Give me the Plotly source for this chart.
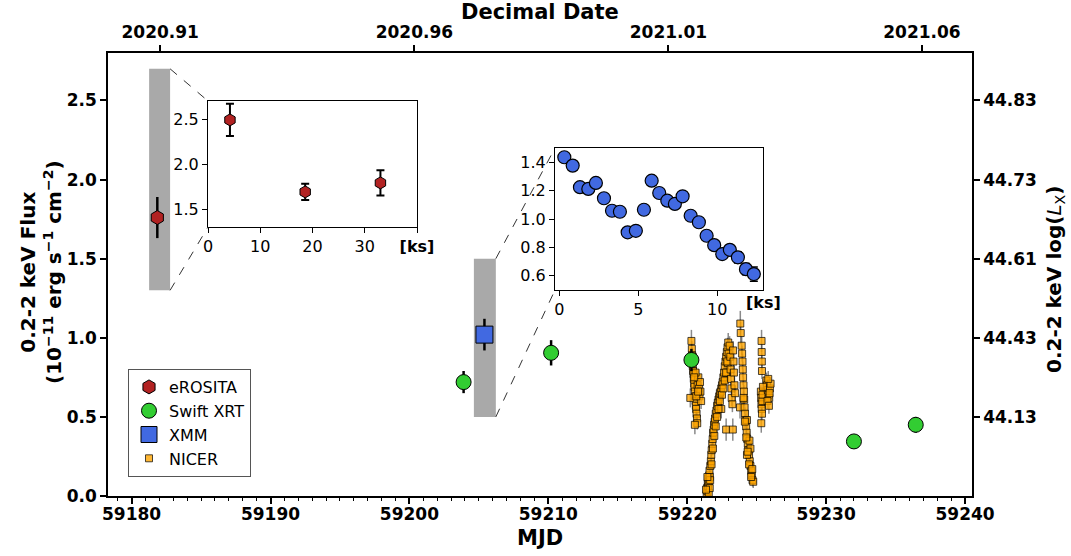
import plotly.graph_objects as go

# ---------------- data ----------------
erosita_mjd = [59181.85]
erosita_flux = [1.76]
erosita_err = [0.13]

swift_mjd = [59203.9, 59210.2, 59220.3, 59232.0, 59236.45]
swift_flux = [0.72, 0.905, 0.86, 0.345, 0.45]
swift_err = [0.07, 0.08, 0.07, 0.04, 0.05]

xmm_mjd = [59205.4]
xmm_flux = [1.02]
xmm_err = [0.1]

erosita_band_mjd = [59181.26, 59182.77]
erosita_band_flux = [1.3, 2.7]
xmm_band_mjd = [59204.64, 59206.22]
xmm_band_flux = [0.5, 1.5]

# eROSITA inset (time in ks)
erosita_ks = [4.2, 18.6, 33.0]
erosita_ks_flux = [2.49, 1.69, 1.79]
erosita_ks_err = [0.18, 0.09, 0.14]

# XMM inset (time in ks)
xmm_ks = [0.32, 0.85, 1.31, 1.84, 2.32, 2.83, 3.34, 3.84, 4.33, 4.85, 5.36, 5.85, 6.33,
          6.84, 7.32, 7.81, 8.32, 8.84, 9.33, 9.81, 10.32, 10.80, 11.31, 11.82, 12.32]
xmm_ks_flux = [1.435, 1.376, 1.224, 1.212, 1.254, 1.146, 1.058, 1.051, 0.906, 0.917, 1.065,
               1.270, 1.183, 1.129, 1.106, 1.160, 1.023, 0.977, 0.882, 0.816, 0.753, 0.783,
               0.730, 0.647, 0.612]
xmm_ks_err = [0.03, 0.03, 0.03, 0.03, 0.03, 0.03, 0.03, 0.03, 0.025, 0.025, 0.03, 0.03, 0.03,
              0.03, 0.03, 0.03, 0.03, 0.03, 0.03, 0.03, 0.03, 0.035, 0.04, 0.04, 0.05]

# NICER light curve
nicer_mjd = [
    # first visit
    59220.30, 59220.33, 59220.35, 59220.37, 59220.40, 59220.42, 59220.45, 59220.47, 59220.50,
    59220.52, 59220.55, 59220.57, 59220.60, 59220.62, 59220.64, 59220.67, 59220.70, 59220.72,
    59220.55, 59220.22, 59220.75, 59220.80, 59220.85, 59220.88, 59220.95, 59221.00, 59220.60,
    59220.45, 59220.65, 59220.78, 59220.92, 59220.50, 59220.40,
    # rise
    59221.40, 59221.43, 59221.45, 59221.48, 59221.50, 59221.52, 59221.55, 59221.58, 59221.60,
    59221.63, 59221.66, 59221.70, 59221.73, 59221.76, 59221.80, 59221.83, 59221.86, 59221.90,
    59221.93, 59221.97, 59222.00, 59222.05, 59222.10, 59222.15, 59222.20, 59222.25, 59222.30,
    59222.35, 59222.40, 59222.45, 59222.50, 59222.55, 59222.60, 59222.65, 59222.70, 59222.75,
    59222.80, 59222.85, 59222.90, 59222.95, 59222.98, 59222.92, 59222.85, 59222.45, 59221.55,
    59221.62, 59222.80, 59221.65, 59221.75, 59221.85, 59221.95, 59222.05, 59222.15, 59222.25,
    59222.35, 59222.50, 59222.60, 59222.70, 59222.78, 59222.88, 59221.45, 59221.35,
    # peak and decline
    59223.05, 59223.10, 59223.12, 59223.15, 59223.18, 59223.20, 59223.25, 59223.28, 59223.30,
    59223.33, 59223.36, 59223.40, 59223.45, 59223.82, 59223.85, 59223.80, 59223.92, 59223.95,
    59223.98, 59224.00, 59224.02, 59224.05, 59224.08, 59224.10, 59224.13, 59224.16, 59224.20,
    59224.24, 59224.28, 59224.32, 59224.36, 59224.40, 59224.45, 59224.50, 59224.55, 59224.60,
    59224.65, 59224.70, 59224.75, 59224.55, 59224.48, 59224.30, 59224.30, 59224.05, 59224.15,
    59224.25, 59224.35, 59224.45, 59224.60, 59224.68,
    # last visit
    59225.35, 59225.36, 59225.37, 59225.38, 59225.30, 59225.32, 59225.34, 59225.36, 59225.38,
    59225.40, 59225.42, 59225.33, 59225.70, 59225.75, 59225.80, 59225.85, 59225.90, 59225.95,
    59226.00, 59225.78, 59225.88, 59225.45, 59225.83, 59225.93,
]
nicer_flux = [
    0.98, 0.93, 0.89, 0.85, 0.82, 0.79, 0.77, 0.74, 0.71,
    0.69, 0.66, 0.63, 0.60, 0.57, 0.55, 0.52, 0.49, 0.46,
    0.45, 0.62, 0.70, 0.75, 0.68, 0.63, 0.66, 0.60, 0.78,
    0.85, 0.63, 0.66, 0.72, 0.75, 0.88,
    0.01, 0.05, 0.03, 0.08, 0.06, 0.11, 0.09, 0.13, 0.16,
    0.12, 0.19, 0.22, 0.26, 0.29, 0.33, 0.36, 0.40, 0.42,
    0.45, 0.47, 0.49, 0.52, 0.54, 0.57, 0.59, 0.61, 0.63,
    0.65, 0.66, 0.68, 0.70, 0.72, 0.75, 0.78, 0.82, 0.85,
    0.88, 0.91, 0.94, 0.97, 0.90, 0.84, 0.78, 0.55, 0.02,
    0.05, 0.42, 0.10, 0.20, 0.30, 0.38, 0.44, 0.50, 0.55,
    0.60, 0.64, 0.68, 0.73, 0.78, 0.85, 0.12, 0.04,
    0.95, 0.88, 0.80, 0.74, 0.68, 0.62, 0.58, 0.42, 0.92,
    0.85, 0.78, 0.70, 0.65, 1.09, 1.03, 0.56, 0.95, 0.90,
    0.85, 0.80, 0.75, 0.70, 0.66, 0.61, 0.56, 0.52, 0.48,
    0.44, 0.40, 0.36, 0.33, 0.29, 0.26, 0.22, 0.19, 0.16,
    0.13, 0.10, 0.09, 0.30, 0.35, 0.48, 0.26, 0.62, 0.47,
    0.37, 0.28, 0.20, 0.12, 0.17,
    0.98, 0.91, 0.85, 0.79, 0.66, 0.62, 0.58, 0.55, 0.52,
    0.60, 0.64, 0.46, 0.73, 0.70, 0.67, 0.64, 0.62, 0.68,
    0.71, 0.60, 0.57, 0.69, 0.74, 0.65,
]
nicer_err = [
    0.07, 0.05, 0.05, 0.04, 0.04, 0.04, 0.04, 0.04, 0.04,
    0.04, 0.04, 0.04, 0.04, 0.04, 0.04, 0.04, 0.04, 0.04,
    0.06, 0.06, 0.05, 0.05, 0.05, 0.05, 0.05, 0.05, 0.06,
    0.06, 0.05, 0.05, 0.05, 0.05, 0.05,
    0.04, 0.04, 0.04, 0.04, 0.04, 0.04, 0.04, 0.04, 0.04,
    0.04, 0.04, 0.04, 0.04, 0.04, 0.04, 0.04, 0.04, 0.04,
    0.04, 0.04, 0.04, 0.04, 0.04, 0.04, 0.04, 0.04, 0.04,
    0.04, 0.04, 0.04, 0.04, 0.04, 0.05, 0.05, 0.05, 0.05,
    0.05, 0.05, 0.06, 0.06, 0.06, 0.05, 0.05, 0.06, 0.05,
    0.05, 0.07, 0.04, 0.04, 0.04, 0.04, 0.04, 0.04, 0.04,
    0.04, 0.04, 0.05, 0.05, 0.05, 0.05, 0.04, 0.04,
    0.06, 0.05, 0.05, 0.05, 0.05, 0.05, 0.05, 0.07, 0.06,
    0.05, 0.05, 0.05, 0.05, 0.08, 0.07, 0.07, 0.06, 0.05,
    0.05, 0.05, 0.05, 0.05, 0.04, 0.04, 0.04, 0.04, 0.04,
    0.04, 0.04, 0.04, 0.04, 0.04, 0.04, 0.04, 0.04, 0.04,
    0.04, 0.04, 0.04, 0.06, 0.06, 0.06, 0.06, 0.04, 0.04,
    0.04, 0.04, 0.04, 0.04, 0.04,
    0.07, 0.05, 0.05, 0.05, 0.04, 0.04, 0.04, 0.04, 0.04,
    0.04, 0.04, 0.06, 0.05, 0.04, 0.04, 0.04, 0.04, 0.04,
    0.04, 0.05, 0.05, 0.05, 0.05, 0.05,
]

mjd_ticks = [59180, 59190, 59200, 59210, 59220, 59230, 59240]
flux_ticks = [0.0, 0.5, 1.0, 1.5, 2.0, 2.5]
decimal_date_labels = ["2020.91", "2020.96", "2021.01", "2021.06"]
lx_tick_flux = [0.5, 1.0, 1.5, 2.0, 2.5]
lx_tick_labels = ["44.13", "44.43", "44.61", "44.73", "44.83"]
ins1_ticks = [0, 10, 20, 30, 40]
ins1_labels = ["0", "10", "20", "30", "<b>[ks]</b>"]

# ---------------- layout geometry ----------------
W, H = 1071, 556
ML, MR, MT, MB = 108, 99, 53, 60
PW, PH = W - ML - MR, H - MT - MB
XR = [59178.3, 59240.5]
YR = [0.0, 2.8]


def px_x(p):
    return (p - ML) / PW


def px_y(p):
    return (H - MB - p) / PH


def dx(v):
    return (v - XR[0]) / (XR[1] - XR[0])


def dy(v):
    return (v - YR[0]) / (YR[1] - YR[0])


def decyear_to_mjd(label):
    d = float(label)
    yr = int(d)
    start = {2020: 58849, 2021: 59215}[yr]
    ndays = 366 if yr % 4 == 0 else 365
    return start + (d - yr) * ndays


top_tickvals = [decyear_to_mjd(s) for s in decimal_date_labels]

ins1_x = [px_x(208), px_x(417)]
ins1_y = [px_y(227), px_y(101)]
ins2_x = [px_x(555), px_x(763)]
ins2_y = [px_y(290), px_y(148)]

FONT = "DejaVu Sans"
TICKFONT = dict(family=FONT, size=17, color="black", weight="bold")
INSFONT = dict(family=FONT, size=16, color="black")

fig = go.Figure()

# NICER (drawn first so other markers sit on top)
fig.add_trace(go.Scatter(
    x=nicer_mjd, y=nicer_flux, mode="markers", name="NICER", legendrank=4,
    error_y=dict(type="data", array=nicer_err, color="rgba(60,60,60,0.6)", thickness=1.5, width=0),
    marker=dict(symbol="square", size=7, color="rgba(255,165,0,0.8)",
                line=dict(color="rgba(0,0,0,0.7)", width=1)),
))
fig.add_trace(go.Scatter(
    x=erosita_mjd, y=erosita_flux, mode="markers", name="eROSITA", legendrank=1,
    error_y=dict(type="data", array=erosita_err, color="black", thickness=2.5, width=0),
    marker=dict(symbol="hexagon", size=14, color="#B22222", line=dict(color="black", width=1)),
))
fig.add_trace(go.Scatter(
    x=swift_mjd, y=swift_flux, mode="markers", name="Swift XRT", legendrank=2,
    error_y=dict(type="data", array=swift_err, color="black", thickness=2.5, width=0),
    marker=dict(symbol="circle", size=15, color="#32CD32", line=dict(color="black", width=1)),
))
fig.add_trace(go.Scatter(
    x=xmm_mjd, y=xmm_flux, mode="markers", name="XMM", legendrank=3,
    error_y=dict(type="data", array=xmm_err, color="black", thickness=2.5, width=0),
    marker=dict(symbol="square", size=17, color="#4169E1", line=dict(color="black", width=1)),
))
# invisible trace so the top / right axes exist
fig.add_trace(go.Scatter(x=[XR[0]], y=[YR[0]], xaxis="x2", yaxis="y2", mode="markers",
                         marker=dict(opacity=0), showlegend=False, hoverinfo="skip"))

# insets
fig.add_trace(go.Scatter(
    x=erosita_ks, y=erosita_ks_flux, xaxis="x3", yaxis="y3", mode="markers", showlegend=False,
    error_y=dict(type="data", array=erosita_ks_err, color="black", thickness=2, width=4),
    marker=dict(symbol="hexagon", size=12, color="#B22222", line=dict(color="black", width=1)),
))
fig.add_trace(go.Scatter(
    x=xmm_ks, y=xmm_ks_flux, xaxis="x4", yaxis="y4", mode="markers", showlegend=False,
    error_y=dict(type="data", array=xmm_ks_err, color="black", thickness=1.5, width=4),
    marker=dict(symbol="circle", size=13, color="#4169E1", line=dict(color="black", width=1.2)),
))

shapes = [
    dict(type="rect", xref="x", yref="y", x0=erosita_band_mjd[0], x1=erosita_band_mjd[1],
         y0=erosita_band_flux[0], y1=erosita_band_flux[1], fillcolor="#A9A9A9",
         line=dict(width=0), layer="below"),
    dict(type="rect", xref="x", yref="y", x0=xmm_band_mjd[0], x1=xmm_band_mjd[1],
         y0=xmm_band_flux[0], y1=xmm_band_flux[1], fillcolor="#A9A9A9",
         line=dict(width=0), layer="below"),
]
dash = dict(color="#333333", width=1, dash="dash")
for band_x, band_y, ix, iy in [(erosita_band_mjd, erosita_band_flux, ins1_x, ins1_y),
                                (xmm_band_mjd, xmm_band_flux, ins2_x, ins2_y)]:
    shapes.append(dict(type="line", xref="paper", yref="paper", x0=dx(band_x[1]), y0=dy(band_y[1]),
                       x1=ix[0], y1=iy[1], line=dash))
    shapes.append(dict(type="line", xref="paper", yref="paper", x0=dx(band_x[1]), y0=dy(band_y[0]),
                       x1=ix[0], y1=iy[0], line=dash))

axis_common = dict(showline=True, linecolor="black", linewidth=1.5, ticks="outside",
                   ticklen=6, tickwidth=1.5, tickcolor="black", showgrid=False, zeroline=False)
inset_common = dict(showline=True, linecolor="black", linewidth=1.2, ticks="outside",
                    ticklen=5, tickwidth=1.2, tickcolor="black", showgrid=False, zeroline=False,
                    mirror=True, tickfont=INSFONT)

annotations = [
    dict(text="<b>MJD</b>", xref="paper", yref="paper", x=0.5, y=px_y(538), showarrow=False,
         font=dict(family=FONT, size=21, color="black"), xanchor="center", yanchor="middle"),
    dict(text="<b>Decimal Date</b>", xref="paper", yref="paper", x=0.5, y=px_y(12), showarrow=False,
         font=dict(family=FONT, size=21, color="black"), xanchor="center", yanchor="middle"),
    dict(text="<b>0.2-2 keV Flux</b><br><b>(10<sup>−11</sup> erg s<sup>−1</sup> cm<sup>−2</sup>)</b>",
         xref="paper", yref="paper", x=px_x(41), y=px_y(272), showarrow=False, textangle=-90,
         font=dict(family=FONT, size=20, color="black"), xanchor="center", yanchor="middle"),
    dict(text="<b>0.2-2 keV log(</b><i>L</i><sub>X</sub><b>)</b>",
         xref="paper", yref="paper", x=px_x(1055), y=px_y(280), showarrow=False, textangle=-90,
         font=dict(family=FONT, size=20, color="black"), xanchor="center", yanchor="middle"),
    dict(text="<b>[ks]</b>", xref="paper", yref="paper", x=px_x(763), y=px_y(302), showarrow=False,
         font=dict(family=FONT, size=16, color="black"), xanchor="center", yanchor="middle"),
]

fig.update_layout(
    width=W, height=H, margin=dict(l=ML, r=MR, t=MT, b=MB, autoexpand=False),
    paper_bgcolor="white", plot_bgcolor="white",
    font=dict(family=FONT, color="black"),
    showlegend=True,
    legend=dict(x=px_x(128), y=px_y(369), xanchor="left", yanchor="top",
                bgcolor="rgba(255,255,255,0.8)", bordercolor="#555555", borderwidth=1,
                font=dict(family=FONT, size=16, color="black"), itemsizing="trace",
                tracegroupgap=0),
    xaxis=dict(domain=[0, 1], range=XR, anchor="y", tickmode="array", tickvals=mjd_ticks,
               ticktext=[str(v) for v in mjd_ticks], tickfont=TICKFONT, ticklabelstandoff=-4,
               minor=dict(ticks="outside", dtick=1, tick0=59180, ticklen=3, tickwidth=1,
                          tickcolor="black"), **axis_common),
    xaxis2=dict(overlaying="x", side="top", anchor="y", range=XR, tickmode="array",
                tickvals=top_tickvals, ticktext=decimal_date_labels, tickfont=TICKFONT,
                **axis_common),
    yaxis=dict(domain=[0, 1], range=YR, anchor="x", tickmode="array", tickvals=flux_ticks,
               ticktext=[f"{v:.1f}" for v in flux_ticks], tickfont=TICKFONT, **axis_common),
    yaxis2=dict(overlaying="y", side="right", anchor="x", range=YR, tickmode="array",
                tickvals=lx_tick_flux, ticktext=lx_tick_labels, tickfont=TICKFONT,
                **axis_common),
    xaxis3=dict(domain=ins1_x, anchor="y3", range=[0, 40], tickmode="array",
                tickvals=ins1_ticks, ticktext=ins1_labels, **inset_common),
    yaxis3=dict(domain=ins1_y, anchor="x3", range=erosita_band_flux, tickmode="array",
                tickvals=[1.5, 2.0, 2.5], ticktext=["1.5", "2.0", "2.5"], **inset_common),
    xaxis4=dict(domain=ins2_x, anchor="y4", range=[-0.27, 12.9], tickmode="array",
                tickvals=[0, 5, 10], ticktext=["0", "5", "10"], **inset_common),
    yaxis4=dict(domain=ins2_y, anchor="x4", range=xmm_band_flux, tickmode="array",
                tickvals=[0.6, 0.8, 1.0, 1.2, 1.4], ticktext=["0.6", "0.8", "1.0", "1.2", "1.4"],
                **inset_common),
    shapes=shapes,
    annotations=annotations,
)

fig.write_html("out.html")
